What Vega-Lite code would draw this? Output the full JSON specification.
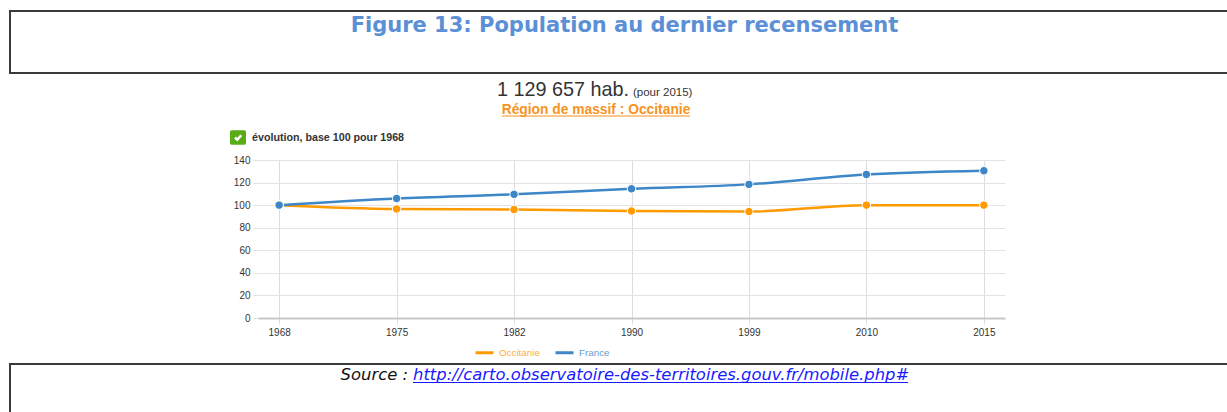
{
  "$schema": "https://vega.github.io/schema/vega-lite/v6.json",
  "background": "white",
  "padding": {"left": 9, "top": 10, "right": 0, "bottom": 0},
  "spacing": 0,
  "config": {"view": {"stroke": null}, "font": "Liberation Sans"},
  "resolve": {"legend": {"color": "independent"}},
  "vconcat": [
    {
      "width": 1225,
      "height": 62,
      "view": {"stroke": "#3a3a3a", "strokeWidth": 2},
      "data": {"values": [{"t": "Figure 13: Population au dernier recensement"}]},
      "mark": {"type": "text", "font": "DejaVu Sans", "fontWeight": "bold", "fontSize": 21, "color": "#5b8fd6", "dx": 2, "dy": -16, "baseline": "middle"},
      "encoding": {"text": {"field": "t"}}
    },
    {
      "width": 1225,
      "height": 81,
      "layer": [
        {
          "data": {"values": [{"t": "1 129 657 hab."}]},
          "mark": {"type": "text", "fontSize": 19.8, "color": "#333333", "align": "right", "baseline": "alphabetic", "dx": 6.5, "dy": -18.5},
          "encoding": {"text": {"field": "t"}}
        },
        {
          "data": {"values": [{"t": "(pour 2015)"}]},
          "mark": {"type": "text", "fontSize": 11.5, "color": "#333333", "align": "left", "baseline": "alphabetic", "dx": 10.5, "dy": -18.5},
          "encoding": {"text": {"field": "t"}}
        },
        {
          "data": {"values": [{"t": "Région de massif : Occitanie"}]},
          "mark": {"type": "text", "fontSize": 13.8, "fontWeight": "bold", "color": "#f7931e", "align": "center", "baseline": "middle", "dx": -26.5, "dy": -4.5},
          "encoding": {"text": {"field": "t"}}
        },
        {
          "data": {"values": [{"t": "underline"}]},
          "mark": {"type": "point", "shape": "M-1,0 L1,0", "filled": false, "size": 35344, "color": "#f7931e", "strokeWidth": 1.2, "opacity": 1, "xOffset": -26.5, "yOffset": 1.5},
          "encoding": {}
        },
        {
          "data": {"values": [{"t": "box"}]},
          "mark": {"type": "point", "shape": "M-1,-0.7 Q-1,-0.9 -0.8,-0.9 L0.8,-0.9 Q1,-0.9 1,-0.7 L1,0.7 Q1,0.9 0.8,0.9 L-0.8,0.9 Q-1,0.9 -1,0.7 Z", "filled": true, "size": 256, "color": "#5aac16", "opacity": 1, "xOffset": -384.5, "yOffset": 23},
          "encoding": {}
        },
        {
          "data": {"values": [{"t": "check"}]},
          "mark": {"type": "point", "shape": "M-0.6,0 L-0.15,0.45 L0.65,-0.45", "filled": false, "size": 100, "color": "white", "strokeWidth": 2.5, "opacity": 1, "xOffset": -384.5, "yOffset": 23},
          "encoding": {}
        },
        {
          "data": {"values": [{"t": "évolution, base 100 pour 1968"}]},
          "mark": {"type": "text", "fontSize": 10.7, "fontWeight": "bold", "color": "#333333", "align": "left", "baseline": "middle", "dx": -370.5, "dy": 23.5},
          "encoding": {"text": {"field": "t"}}
        }
      ]
    },
    {
      "spacing": 0,
      "resolve": {"legend": {"color": "independent"}},
      "hconcat": [
        {
          "width": 223,
          "height": 10,
          "data": {"values": []},
          "mark": "point"
        },
        {
          "width": 747,
          "height": 158,
          "data": {"values": [
            {"year": "1968", "series": "Occitanie", "value": 100},
            {"year": "1975", "series": "Occitanie", "value": 96.6},
            {"year": "1982", "series": "Occitanie", "value": 96.1},
            {"year": "1990", "series": "Occitanie", "value": 94.8},
            {"year": "1999", "series": "Occitanie", "value": 94.3},
            {"year": "2010", "series": "Occitanie", "value": 100},
            {"year": "2015", "series": "Occitanie", "value": 100},
            {"year": "1968", "series": "France", "value": 100},
            {"year": "1975", "series": "France", "value": 105.9},
            {"year": "1982", "series": "France", "value": 109.6},
            {"year": "1990", "series": "France", "value": 114.5},
            {"year": "1999", "series": "France", "value": 118.4},
            {"year": "2010", "series": "France", "value": 127.2},
            {"year": "2015", "series": "France", "value": 130.5}
          ]},
          "encoding": {
            "x": {
              "field": "year", "type": "ordinal",
              "scale": {"type": "point", "padding": 0.18},
              "axis": {"title": null, "labelAngle": 0, "grid": true, "gridColor": "#dddddd", "tickColor": "#dddddd", "tickSize": 6, "domainColor": "#c8c8c8", "domainWidth": 2, "labelFontSize": 10, "labelColor": "#333333", "labelPadding": 3}
            },
            "y": {
              "field": "value", "type": "quantitative",
              "scale": {"domain": [0, 140], "nice": false},
              "axis": {"title": null, "values": [0, 20, 40, 60, 80, 100, 120, 140], "grid": true, "gridColor": "#e3e3e3", "domain": false, "tickColor": "#e3e3e3", "tickSize": 5, "labelFontSize": 10, "labelColor": "#333333", "labelPadding": 3}
            },
            "color": {
              "field": "series", "type": "nominal",
              "scale": {"domain": ["Occitanie", "France"], "range": ["#ff9a00", "#3d86c8"]}
            }
          },
          "layer": [
            {
              "mark": {"type": "line", "interpolate": "monotone", "strokeWidth": 2.5},
              "encoding": {
                "color": {
                  "field": "series", "type": "nominal",
                  "legend": {
                    "title": null, "orient": "none", "legendX": 212, "legendY": 178, "direction": "horizontal",
                    "symbolType": "stroke", "symbolSize": 324, "symbolStrokeWidth": 3, "labelFontSize": 9.8, "labelOffset": 4, "columnPadding": 9, "padding": 4,
                    "encode": {"labels": {"update": {"fill": {"scale": "color", "field": "value"}, "opacity": {"value": 0.8}}}}
                  }
                }
              }
            },
            {
              "mark": {"type": "point", "filled": true, "size": 70, "stroke": "white", "strokeWidth": 1, "opacity": 1},
              "encoding": {"color": {"field": "series", "type": "nominal", "legend": null}}
            }
          ]
        }
      ]
    },
    {
      "width": 1225,
      "height": 60,
      "view": {"stroke": "#3a3a3a", "strokeWidth": 2},
      "layer": [
        {
          "data": {"values": [{"t": "Source :"}]},
          "mark": {"type": "text", "font": "DejaVu Sans", "fontStyle": "italic", "fontSize": 16.4, "color": "#111111", "align": "right", "baseline": "middle", "dx": -214.5, "dy": -19},
          "encoding": {"text": {"field": "t"}}
        },
        {
          "data": {"values": [{"t": "http://carto.observatoire-des-territoires.gouv.fr/mobile.php#"}]},
          "mark": {"type": "text", "font": "DejaVu Sans", "fontStyle": "italic", "fontSize": 16.4, "color": "#1a1aff", "align": "left", "baseline": "middle", "dx": -209.5, "dy": -19},
          "encoding": {"text": {"field": "t"}}
        },
        {
          "data": {"values": [{"t": "underline"}]},
          "mark": {"type": "point", "shape": "M-1,0 L1,0", "filled": false, "size": 245025, "color": "#1a1aff", "strokeWidth": 1.2, "opacity": 1, "xOffset": 38, "yOffset": -11.5},
          "encoding": {}
        }
      ]
    }
  ]
}
